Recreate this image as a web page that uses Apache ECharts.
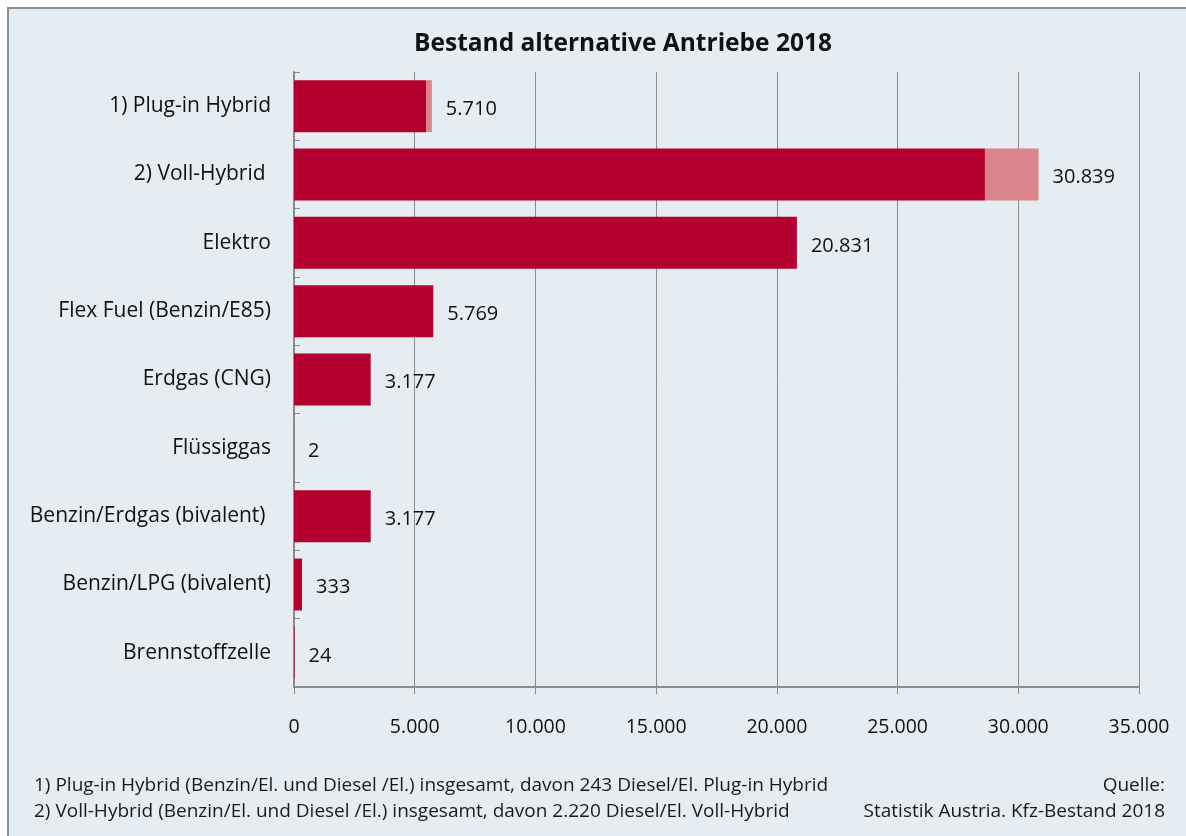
<!DOCTYPE html>
<html><head><meta charset="utf-8">
<script src="https://cdn.jsdelivr.net/npm/echarts@6/dist/echarts.min.js"></script>
<style>html,body{margin:0;padding:0;background:#fff;}#c{width:1186px;height:836px;}</style>
</head><body><div id="c"></div>
<script>
const categories = ['1) Plug-in Hybrid','2) Voll-Hybrid ','Elektro','Flex Fuel (Benzin/E85)','Erdgas (CNG)','Flüssiggas','Benzin/Erdgas (bivalent) ','Benzin/LPG (bivalent)','Brennstoffzelle'];
const mainValues = [5467, 28619, 20831, 5769, 3177, 2, 3177, 333, 24];
const dieselValues = [243, 2220, 0, 0, 0, 0, 0, 0, 0];
const xTicks = [0, 5000, 10000, 15000, 20000, 25000, 30000, 35000];
const titleText = 'Bestand alternative Antriebe 2018';
const footnote1 = '1) Plug-in Hybrid (Benzin/El. und Diesel /El.) insgesamt, davon 243 Diesel/El. Plug-in Hybrid';
const footnote2 = '2) Voll-Hybrid (Benzin/El. und Diesel /El.) insgesamt, davon 2.220 Diesel/El. Voll-Hybrid';
const source1 = 'Quelle:';
const source2 = 'Statistik Austria. Kfz-Bestand 2018';

const FONT = '"Open Sans", Lato, sans-serif';
const fmt = v => String(v).replace(/\B(?=(\d{3})+(?!\d))/g, '.');
const chart = echarts.init(document.getElementById('c'));
chart.setOption({
  animation: false,
  textStyle: {fontFamily: FONT},
  graphic: [
    {type: 'rect', shape: {x: 8, y: 8, width: 1200, height: 900}, style: {fill: '#e5edf3', stroke: '#8e8e8e', lineWidth: 2}, z: -10},
    {type: 'text', left: 34, top: 776, style: {text: footnote1, font: '19px ' + FONT, fill: '#1a1a1a'}},
    {type: 'text', left: 34, top: 802, style: {text: footnote2, font: '19px ' + FONT, fill: '#1a1a1a'}},
    {type: 'text', right: 21, top: 776, style: {text: source1, font: '19px ' + FONT, fill: '#1a1a1a', align: 'right'}},
    {type: 'text', right: 21, top: 802, style: {text: source2, font: '19px ' + FONT, fill: '#1a1a1a', align: 'right'}}
  ],
  title: {text: titleText, left: 618, top: 27, textAlign: 'center',
    textStyle: {fontFamily: FONT, fontSize: 24.5, fontWeight: 'bold', color: '#111'}},
  grid: {left: 294, right: 47, top: 72, bottom: 149, containLabel: false},
  xAxis: {type: 'value', min: 0, max: 35000, interval: 5000,
    axisLine: {show: true, lineStyle: {color: '#8c8c8c', width: 2}},
    axisTick: {show: true, length: 7, lineStyle: {color: '#8c8c8c', width: 1}},
    splitLine: {show: true, lineStyle: {color: '#8c8c8c', width: 1}},
    axisLabel: {margin: 30, fontSize: 19.5, color: '#111', fontFamily: FONT, formatter: v => fmt(v)}
  },
  yAxis: {type: 'category', inverse: true, data: categories,
    axisLine: {show: true, lineStyle: {color: '#8c8c8c', width: 2}},
    axisTick: {show: true, inside: true, length: 6, lineStyle: {color: '#8c8c8c'}},
    axisLabel: {margin: 23, fontSize: 21, color: '#111', fontFamily: FONT}
  },
  series: [
    {type: 'bar', stack: 't', data: mainValues, barCategoryGap: '24%',
      itemStyle: {color: '#b4002e'}},
    {type: 'bar', stack: 't', data: dieselValues, barCategoryGap: '24%',
      itemStyle: {color: '#d9848a'},
      label: {show: true, position: 'right', distance: 14, fontSize: 20, color: '#111', fontFamily: FONT,
        offset: [0, 3],
        formatter: p => fmt(mainValues[p.dataIndex] + dieselValues[p.dataIndex])}}
  ]
});
</script></body></html>
